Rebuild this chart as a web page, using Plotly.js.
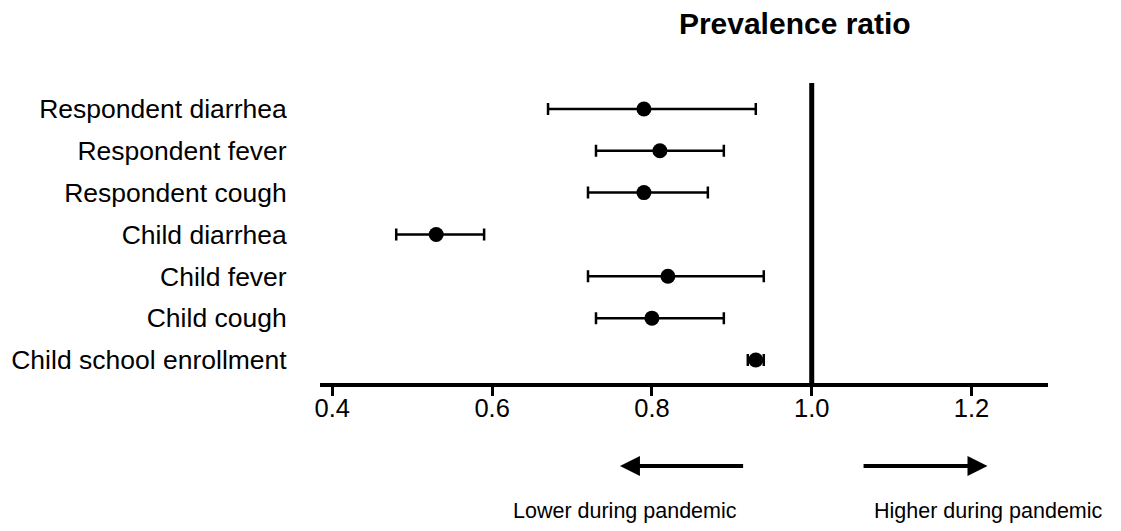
<!DOCTYPE html>
<html>
<head>
<meta charset="utf-8">
<script src="https://cdn.plot.ly/plotly-3.0.1.min.js"></script>
<style>html,body{margin:0;padding:0;background:#fff;}#chart{width:1121px;height:531px;}</style>
</head>
<body>
<div id="chart"></div>
<script>
const categories = ["Respondent diarrhea","Respondent fever","Respondent cough","Child diarrhea","Child fever","Child cough","Child school enrollment"];
const ratios = [0.79, 0.81, 0.79, 0.53, 0.82, 0.80, 0.93];
const lowerCI = [0.67, 0.73, 0.72, 0.48, 0.72, 0.73, 0.92];
const upperCI = [0.93, 0.89, 0.87, 0.59, 0.94, 0.89, 0.94];
const tickVals = [0.4, 0.6, 0.8, 1.0, 1.2];
const tickText = ["0.4", "0.6", "0.8", "1.0", "1.2"];
const referenceValue = 1.0;
const leftArrow = [0.916, 0.76];
const rightArrow = [1.063, 1.22];

const FONT = "Arial, 'Liberation Sans', sans-serif";

const trace = {
  type: "scatter",
  mode: "markers",
  x: ratios,
  y: categories,
  marker: {color: "#000", size: 15},
  error_x: {
    type: "data",
    symmetric: false,
    array: ratios.map((r, i) => upperCI[i] - r),
    arrayminus: ratios.map((r, i) => r - lowerCI[i]),
    color: "#000",
    thickness: 2.5,
    width: 6
  },
  showlegend: false,
  hoverinfo: "x+y"
};

const layout = {
  width: 1121,
  height: 531,
  margin: {l: 320, r: 73, t: 83, b: 148},
  paper_bgcolor: "#fff",
  plot_bgcolor: "#fff",
  font: {family: FONT, color: "#000"},
  title: {
    text: "<b>Prevalence ratio</b>",
    font: {family: FONT, size: 30, color: "#000"},
    x: 0.709, xanchor: "center",
    y: 0.955, yanchor: "middle"
  },
  xaxis: {
    range: [0.3846, 1.2957],
    tickvals: tickVals,
    ticktext: tickText,
    ticks: "outside",
    ticklen: 9,
    tickwidth: 3,
    tickcolor: "#000",
    ticklabelstandoff: -9,
    showline: true,
    linecolor: "#000",
    linewidth: 3.5,
    showgrid: false,
    zeroline: false,
    tickfont: {family: FONT, size: 25.5, color: "#000"},
    fixedrange: true
  },
  yaxis: {
    type: "category",
    categoryorder: "array",
    categoryarray: categories.slice().reverse(),
    range: [-0.55, 6.62],
    showline: false,
    showgrid: false,
    zeroline: false,
    ticks: "outside",
    ticklen: 27,
    tickcolor: "rgba(0,0,0,0)",
    tickfont: {family: FONT, size: 26.5, color: "#000"},
    fixedrange: true
  },
  shapes: [{
    type: "line",
    xref: "x", yref: "paper",
    x0: referenceValue, x1: referenceValue,
    y0: 0, y1: 1,
    line: {color: "#000", width: 5}
  }],
  annotations: [
    {
      xref: "x", yref: "paper", axref: "x", ayref: "paper",
      x: leftArrow[1], y: -0.277, ax: leftArrow[0], ay: -0.277,
      text: "", showarrow: true, arrowhead: 2, arrowsize: 1, arrowwidth: 4, arrowcolor: "#000"
    },
    {
      xref: "x", yref: "paper", axref: "x", ayref: "paper",
      x: rightArrow[1], y: -0.277, ax: rightArrow[0], ay: -0.277,
      text: "", showarrow: true, arrowhead: 2, arrowsize: 1, arrowwidth: 4, arrowcolor: "#000"
    },
    {
      xref: "paper", yref: "paper",
      x: (625 - 320) / 728, y: -0.427, xanchor: "center", yanchor: "middle",
      text: "Lower during pandemic", showarrow: false,
      font: {family: FONT, size: 21.5, color: "#000"}
    },
    {
      xref: "paper", yref: "paper",
      x: (988 - 320) / 728, y: -0.427, xanchor: "center", yanchor: "middle",
      text: "Higher during pandemic", showarrow: false,
      font: {family: FONT, size: 21.5, color: "#000"}
    }
  ]
};

Plotly.newPlot("chart", [trace], layout, {displayModeBar: false, staticPlot: true});
</script>
</body>
</html>
